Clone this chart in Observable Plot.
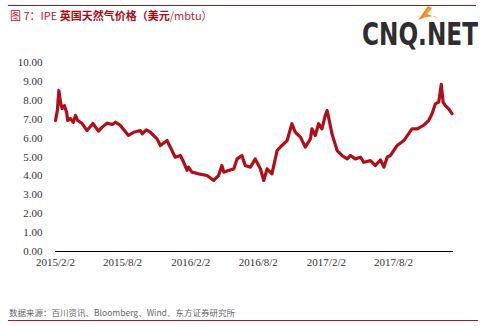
<!DOCTYPE html>
<html><head><meta charset="utf-8">
<script src="https://cdn.jsdelivr.net/npm/d3@7"></script>
<script src="https://cdn.jsdelivr.net/npm/@observablehq/plot@0.6"></script>
<style>
body{margin:0;background:#fff;}
#wrap{position:relative;width:484px;height:326px;overflow:hidden;background:#fff;}
#chart{position:absolute;left:0;top:0;}
.rule{position:absolute;height:1px;background:#9b1c24;}
#title{position:absolute;left:10px;top:8px;font-family:"Noto Sans CJK SC","Liberation Sans",sans-serif;font-size:11px;color:#c0141c;white-space:nowrap;line-height:14px;}
#title b{color:#a80d14;font-weight:bold;}
#title .u{color:#b42a30;}
#caption{position:absolute;left:9px;top:306px;font-family:"Noto Sans CJK SC","Liberation Sans",sans-serif;font-size:8.5px;color:#666;white-space:nowrap;line-height:13px;}
#logo{position:absolute;left:350px;top:0px;}
</style></head><body>
<div id="wrap">
  <div id="chart"></div>
  <div class="rule" style="left:8px;top:5px;width:468px;"></div>
  <div id="title">图 7：IPE <b>英国天然气价格（美元</b><span class="u">/mbtu）</span></div>
  <svg id="logo" width="132" height="64">
    <polygon points="68,20 78,6 82,8 77,14 90,19 84,16 76,17" fill="#f28a1e"/>
    <polygon points="72,19 79,8 81,10" fill="#f6a23c"/>
    <g transform="scale(1,1.22)">
      <text x="12" y="36.9" textLength="116" lengthAdjust="spacingAndGlyphs" font-family="DejaVu Sans Condensed, DejaVu Sans" font-weight="bold" font-size="26" fill="#2e2e2e">CNQ.NET</text>
    </g>
  </svg>
  <div id="caption">数据来源：百川资讯、Bloomberg、Wind、东方证券研究所</div>
  <div class="rule" style="left:8px;top:320px;width:470px;"></div>
</div>
<script>
const dates = [
"2015-02-02","2015-02-07","2015-02-11","2015-02-16","2015-02-20","2015-02-26","2015-03-04","2015-03-07",
"2015-03-14","2015-03-22","2015-03-28","2015-04-03","2015-04-15","2015-04-28","2015-05-14","2015-05-29",
"2015-06-08","2015-06-21","2015-07-05","2015-07-14","2015-07-27","2015-08-18","2015-09-01","2015-09-19",
"2015-09-24","2015-10-05","2015-10-16","2015-11-03","2015-11-12","2015-11-30","2015-12-09","2015-12-22",
"2016-01-05","2016-01-14","2016-01-23","2016-01-27","2016-02-05","2016-02-23","2016-03-17","2016-04-04",
"2016-04-17","2016-04-26","2016-05-01","2016-05-14","2016-05-28","2016-06-06","2016-06-19","2016-06-28",
"2016-07-12","2016-07-25","2016-08-08","2016-08-17","2016-08-26","2016-09-08","2016-09-22","2016-10-05",
"2016-10-19","2016-11-01","2016-11-10","2016-11-24","2016-12-07","2016-12-21","2016-12-25","2017-01-03",
"2017-01-12","2017-01-21","2017-01-30","2017-02-04","2017-02-08","2017-02-17","2017-03-03","2017-03-16",
"2017-03-30","2017-04-08","2017-04-21","2017-05-05","2017-05-14","2017-06-01","2017-06-14","2017-06-28",
"2017-07-07","2017-07-16","2017-07-25","2017-08-12","2017-08-30","2017-09-21","2017-10-05","2017-10-22",
"2017-11-05","2017-11-14","2017-11-23","2017-12-02","2017-12-09","2017-12-14","2017-12-20","2017-12-29",
"2018-01-07"
];
const prices = [
6.93,7.46,8.52,7.83,7.57,7.72,7.35,6.93,
7.04,6.83,7.20,6.93,6.77,6.40,6.77,6.37,
6.58,6.79,6.72,6.84,6.67,6.14,6.31,6.40,
6.23,6.44,6.31,5.96,5.61,5.87,5.52,4.99,
5.08,4.72,4.29,4.46,4.20,4.11,4.02,3.76,
4.02,4.55,4.20,4.29,4.37,4.90,5.08,4.55,
4.46,4.90,4.37,3.76,4.37,4.11,5.34,5.61,
5.87,6.76,6.31,6.05,5.52,5.96,6.49,6.14,
6.76,6.49,7.20,7.46,7.10,6.23,5.34,5.08,
4.90,5.08,4.90,4.99,4.72,4.81,4.55,4.85,
4.46,4.99,5.08,5.61,5.87,6.49,6.49,6.67,
6.93,7.29,7.81,7.90,8.84,7.90,7.72,7.55,
7.29
];
const xTickLabels = ["2015/2/2","2015/8/2","2016/2/2","2016/8/2","2017/2/2","2017/8/2"];
const yTickValues = [0,1,2,3,4,5,6,7,8,9,10];

const parse = d3.utcParse("%Y-%m-%d");
const parseTick = d3.utcParse("%Y/%m/%d");
const data = dates.map((d,i)=>({date: parse(d), price: prices[i]}));
const xTicks = xTickLabels.map(s => parseTick(s));

const chart = Plot.plot({
  width: 484, height: 290,
  marginLeft: 55, marginRight: 31, marginTop: 62, marginBottom: 39,
  style: {fontFamily: "Liberation Serif, serif", fontSize: "11px", color: "#333", background: "transparent"},
  x: {type: "utc", domain: [parse("2015-02-02"), parse("2018-01-11")]},
  y: {domain: [0, 10]},
  marks: [
    Plot.axisY({ticks: yTickValues, tickFormat: d3.format(".2f"), tickSize: 0, tickPadding: 13, label: null}),
    Plot.axisX({ticks: xTicks, tickFormat: d3.utcFormat("%Y/%-m/%-d"), tickSize: 0, tickPadding: 7, label: null}),
    Plot.line(data, {x: "date", y: "price", stroke: "#b10f18", strokeWidth: 3.2, strokeLinejoin: "round"}),
    Plot.ruleY([0], {stroke: "#000", strokeWidth: 1.2})
  ]
});
document.getElementById("chart").appendChild(chart);
</script>
</body></html>
